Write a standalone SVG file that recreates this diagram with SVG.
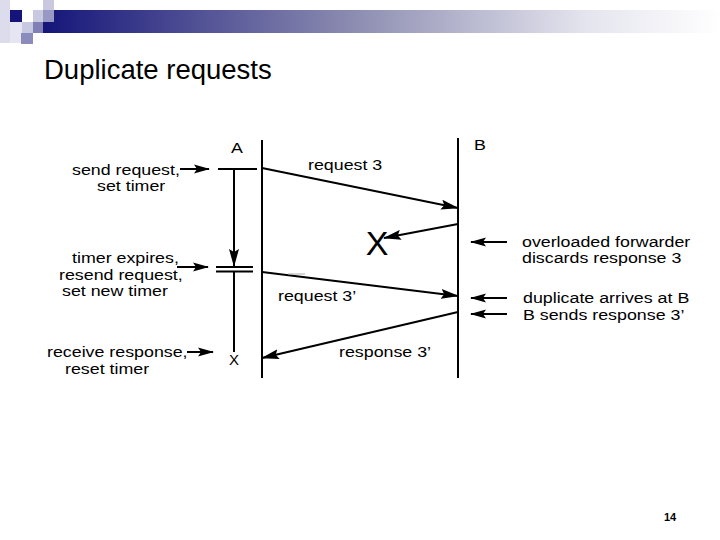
<svg xmlns="http://www.w3.org/2000/svg" width="720" height="540" viewBox="0 0 720 540">
<style>
.t{font-family:"Liberation Sans",Arial,sans-serif;font-size:15.5px;fill:#000}
.ln{stroke:#000;stroke-width:2;fill:none}
.ar{stroke:#000;stroke-width:2;fill:none;marker-end:url(#ah)}
.sa{stroke:#000;stroke-width:2;fill:none;marker-end:url(#sh)}
</style>
<defs>
<linearGradient id="bar" x1="0" y1="0" x2="1" y2="0">
<stop offset="0" stop-color="#15157a"/>
<stop offset="0.45" stop-color="#8a8ab0"/>
<stop offset="0.8" stop-color="#e4e4ee"/>
<stop offset="1" stop-color="#ffffff"/>
</linearGradient>
<marker id="ah" markerUnits="userSpaceOnUse" markerWidth="18" markerHeight="10" refX="17" refY="5" orient="auto">
<path d="M0,0 L18,5 L0,10 L3,5 Z" fill="#000"/>
</marker>
<marker id="sh" markerUnits="userSpaceOnUse" markerWidth="16" markerHeight="10" refX="15" refY="5" orient="auto">
<path d="M0,0.5 L16,5 L0,9.5 L3,5 Z" fill="#000"/>
</marker>
</defs>

<g id="header">
<rect x="43" y="10" width="677" height="23" fill="url(#bar)"/>
<rect x="0" y="0" width="10" height="43" fill="#dcdcec"/>
<rect x="10" y="22" width="12" height="21" fill="#e6e6f2"/>
<rect x="10" y="10" width="12" height="12" fill="#14147a"/>
<rect x="22" y="22" width="11" height="11" fill="#c8c8e0"/>
<rect x="33" y="22" width="10" height="11" fill="#8080b4"/>
<rect x="21" y="33" width="12" height="11" fill="#8c8cbc"/>
<rect x="33" y="10" width="10" height="12" fill="#c8c8e0"/>
<rect x="43" y="0" width="11" height="10" fill="#c8c8e0"/>
<rect x="43" y="10" width="11" height="12" fill="#9898c4"/>
</g>

<text id="title" x="44" y="79" style="font-family:'Liberation Sans',Arial,sans-serif;font-size:27.5px;fill:#000">Duplicate requests</text>

<g id="node-A">
<line class="ln" x1="262" y1="140" x2="262" y2="378"/>
<line class="ln" x1="218" y1="169" x2="257" y2="169"/>
<line class="ln" x1="216" y1="267" x2="253" y2="267"/>
<line class="ln" x1="216" y1="271.5" x2="253" y2="271.5"/>
<text class="t" x="234" y="365" text-anchor="middle" style="font-size:15px">X</text>
</g>

<g id="node-B">
<line class="ln" x1="458" y1="138" x2="458" y2="378"/>
</g>

<g id="connectors">
<line class="ar" x1="234" y1="169" x2="234" y2="266"/>
<line class="ln" x1="234" y1="272" x2="234" y2="352"/>
<line class="ar" x1="262" y1="168" x2="458" y2="208"/>
<line class="ar" x1="458" y1="224" x2="384" y2="238"/>
<line class="ar" x1="262" y1="272" x2="458" y2="296"/>
<line class="ar" x1="458" y1="312" x2="262" y2="358"/>
<line x1="288" y1="274" x2="305" y2="274" stroke="#aaa" stroke-width="1"/>
<line class="sa" x1="180" y1="169" x2="209" y2="169"/>
<line class="sa" x1="177" y1="267" x2="208" y2="267"/>
<line class="sa" x1="187" y1="352" x2="213" y2="352"/>
<line class="sa" x1="507" y1="242" x2="471" y2="242"/>
<line class="sa" x1="507" y1="298" x2="471" y2="298"/>
<line class="sa" x1="507" y1="314" x2="471" y2="314"/>
</g>

<g id="drop-mark">
<text class="t" x="377" y="255" text-anchor="middle" style="font-size:34px">X</text>
</g>

<g id="labels" transform="scale(1.15 1)">
<text class="t" x="206.09" y="153" text-anchor="middle">A</text>
<text class="t" x="412.17" y="150">B</text>
<text class="t" x="267.83" y="170">request 3</text>
<text class="t" x="241.74" y="301">request 3’</text>
<text class="t" x="294.78" y="357">response 3’</text>
<text class="t" x="62.61" y="175">send request,</text>
<text class="t" x="84.35" y="191">set timer</text>
<text class="t" x="62.61" y="263">timer expires,</text>
<text class="t" x="51.3" y="280">resend request,</text>
<text class="t" x="53.91" y="296">set new timer</text>
<text class="t" x="40.87" y="357">receive response,</text>
<text class="t" x="56.52" y="374">reset timer</text>
<text class="t" x="453.91" y="247">overloaded forwarder</text>
<text class="t" x="453.91" y="263">discards response 3</text>
<text class="t" x="454.78" y="303">duplicate arrives at B</text>
<text class="t" x="454.78" y="320">B sends response 3’</text>
</g>

<text id="page" x="670" y="521" text-anchor="middle" style="font-family:'Liberation Sans',Arial,sans-serif;font-size:11px;font-weight:bold;fill:#000">14</text>
</svg>
